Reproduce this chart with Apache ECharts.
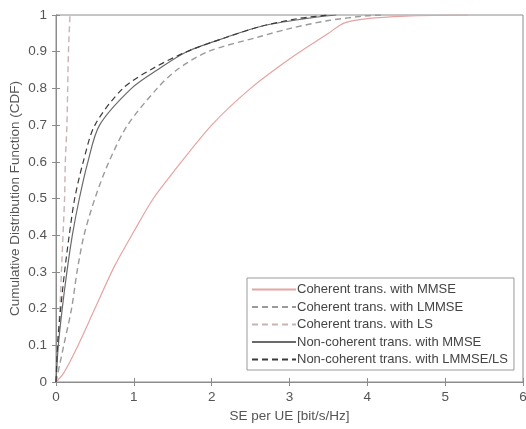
<!DOCTYPE html>
<html>
<head>
<meta charset="utf-8">
<script src="https://cdn.jsdelivr.net/npm/echarts@6/dist/echarts.min.js"></script>
<style>
  html, body { margin: 0; padding: 0; background: #fff; }
  #chart { width: 526px; height: 429px; }
</style>
</head>
<body>
<div id="chart"></div>
<script>
// CDF curves: [SE per UE (bit/s/Hz), CDF]
const coherentMMSE = [[0,0],[0.1,0.025],[0.25,0.085],[0.5,0.2],[0.75,0.315],[1,0.41],[1.25,0.5],[1.5,0.57],[2,0.7],[2.5,0.8],[3,0.88],[3.5,0.95],[3.7,0.978],[4,0.99],[4.5,0.997],[5,0.999],[5.3,1]];
const coherentLMMSE = [[0,0],[0.05,0.05],[0.1,0.1],[0.2,0.2],[0.27,0.3],[0.36,0.4],[0.5,0.5],[0.68,0.6],[0.92,0.7],[1.3,0.8],[1.55,0.85],[1.95,0.9],[2.6,0.94],[3.0,0.963],[3.5,0.985],[4.0,0.998],[4.2,1]];
const coherentLS = [[0,0],[0.02,0.1],[0.05,0.2],[0.07,0.3],[0.09,0.4],[0.11,0.5],[0.12,0.6],[0.14,0.7],[0.15,0.8],[0.16,0.9],[0.18,1]];
const nonCoherentMMSE = [[0,0],[0.03,0.1],[0.08,0.2],[0.14,0.3],[0.21,0.4],[0.3,0.5],[0.41,0.6],[0.56,0.7],[0.97,0.8],[1.3,0.85],[1.68,0.9],[2.2,0.94],[2.65,0.97],[3.2,0.99],[3.6,1]];
const nonCoherentLMMSELS = [[0,0],[0.02,0.1],[0.06,0.2],[0.11,0.3],[0.17,0.4],[0.24,0.5],[0.35,0.6],[0.5,0.7],[0.86,0.8],[1.25,0.855],[1.68,0.9],[2.2,0.94],[2.65,0.97],[3.1,0.99],[3.5,1]];

const seriesNames = [
  'Coherent trans. with MMSE',
  'Coherent trans. with LMMSE',
  'Coherent trans. with LS',
  'Non-coherent trans. with MMSE',
  'Non-coherent trans. with LMMSE/LS'
];
const xTicks = [0, 1, 2, 3, 4, 5, 6];
const yTicks = [0, 0.1, 0.2, 0.3, 0.4, 0.5, 0.6, 0.7, 0.8, 0.9, 1];

const axisColor = '#8c8c8c';
const textColor = '#555';
const font = 'Liberation Sans, Arial, sans-serif';

function line(name, data, color, type, width) {
  return {
    name, type: 'line', data,
    showSymbol: false, symbol: 'none', smooth: 0.3,
    lineStyle: { color, type, width },
    itemStyle: { color },
    animation: false, z: 3
  };
}

const chart = echarts.init(document.getElementById('chart'));
chart.setOption({
  backgroundColor: '#fff',
  animation: false,
  grid: { left: 56, top: 15, right: 3, bottom: 47, containLabel: false, outerBoundsMode: 'none',
    show: true, borderColor: axisColor, borderWidth: 1 },
  xAxis: [{
    type: 'value', min: xTicks[0], max: xTicks[xTicks.length - 1], interval: 1,
    name: 'SE per UE [bit/s/Hz]', nameLocation: 'middle', nameGap: 25,
    nameTextStyle: { color: textColor, fontSize: 13.5, fontFamily: font },
    axisLine: { show: true, lineStyle: { color: axisColor } },
    axisTick: { show: true, inside: true, length: 4, lineStyle: { color: axisColor } },
    axisLabel: { color: textColor, fontSize: 13.5, fontFamily: font, margin: 8 },
    splitLine: { show: false }
  }, {
    type: 'value', position: 'top', min: xTicks[0], max: xTicks[xTicks.length - 1], interval: 1,
    axisLine: { show: true, lineStyle: { color: axisColor } },
    axisTick: { show: true, inside: true, length: 4, lineStyle: { color: axisColor } },
    axisLabel: { show: false }, splitLine: { show: false }
  }],
  yAxis: [{
    type: 'value', min: yTicks[0], max: yTicks[yTicks.length - 1], interval: 0.1,
    name: 'Cumulative Distribution Function (CDF)', nameLocation: 'middle', nameGap: 34,
    nameMoveOverlap: false,
    nameTextStyle: { color: textColor, fontSize: 13.5, fontFamily: font },
    axisLine: { show: true, lineStyle: { color: axisColor } },
    axisTick: { show: true, inside: true, length: 4, lineStyle: { color: axisColor } },
    axisLabel: { color: textColor, fontSize: 13.5, fontFamily: font, margin: 9,
      formatter: v => String(Math.round(v * 10) / 10) },
    splitLine: { show: false }
  }, {
    type: 'value', position: 'right', min: yTicks[0], max: yTicks[yTicks.length - 1], interval: 0.1,
    axisLine: { show: true, lineStyle: { color: axisColor } },
    axisTick: { show: true, inside: true, length: 4, lineStyle: { color: axisColor } },
    axisLabel: { show: false }, splitLine: { show: false }
  }],
  legend: {
    orient: 'vertical', left: 247, top: 278,
    data: seriesNames,
    itemWidth: 44, itemHeight: 10, itemGap: 4.5,
    padding: [5, 6, 4, 4],
    backgroundColor: '#fff', borderColor: '#9a9a9a', borderWidth: 1,
    itemStyle: { opacity: 0 },
    textStyle: { color: '#444', fontSize: 13, lineHeight: 13, fontFamily: font, padding: [0, 0, 0, -4] }
  },
  series: [
    line(seriesNames[0], coherentMMSE, '#e6a3a3', 'solid', 1.2),
    line(seriesNames[1], coherentLMMSE, '#9a9a9a', [6, 4], 1.4),
    line(seriesNames[2], coherentLS, '#c9b3b3', [6, 4], 1.4),
    line(seriesNames[3], nonCoherentMMSE, '#6a6a6a', 'solid', 1.2),
    line(seriesNames[4], nonCoherentLMMSELS, '#3a3a3a', [6, 4], 1.2)
  ]
});
</script>
</body>
</html>
